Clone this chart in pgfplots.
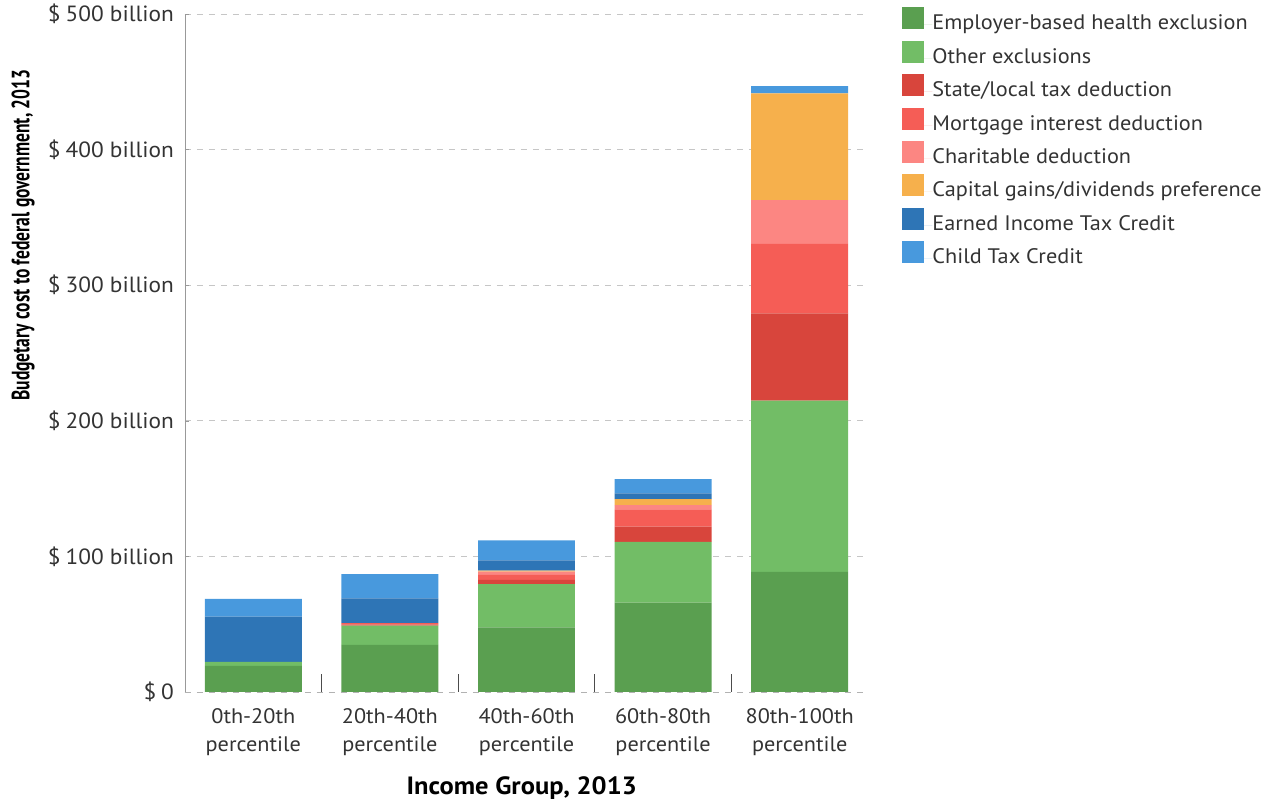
\documentclass[border=0pt]{standalone}
\usepackage{fontspec}
\setmainfont{PT Sans}[FakeStretch=1.06]
\newfontfamily\condfont{PT Sans}[FakeStretch=0.7]
\usepackage{pgfplots}
\pgfplotsset{compat=1.18}
\usepackage{pgfplotstable}
\definecolor{cEmp}{RGB}{90,159,80}
\definecolor{cOth}{RGB}{114,189,102}
\definecolor{cSta}{RGB}{216,69,60}
\definecolor{cMor}{RGB}{245,93,86}
\definecolor{cCha}{RGB}{252,134,130}
\definecolor{cCap}{RGB}{246,176,76}
\definecolor{cEit}{RGB}{46,117,182}
\definecolor{cCtc}{RGB}{72,153,221}
\pgfplotstableread{
x emp oth sta mor cha cap eit ctc
0 19.2 3.1 0 0 0 0 33.2 13.1
1 34.7 14.3 0.7 1.0 0 0 18.4 17.9
2 47.7 31.9 3.0 3.7 2.4 0.8 7.6 14.8
3 65.9 44.9 11.1 12.8 3.2 4.4 4.2 10.5
4 88.5 126.3 64.5 51.1 32.4 78.7 0 5.4
}\datatable
\begin{document}
\begin{tikzpicture}
\begin{axis}[
  name=ax,
  scale only axis,
  width=341.5pt, height=339pt,
  ybar stacked, bar width=0.71,
  xmin=-0.5, xmax=4.5, ymin=0, ymax=500,
  axis x line=bottom, axis y line=left,
  x axis line style={-, gray!60, dashed},
  y axis line style={-, gray!80},
  tick align=inside,
  xtick={0,1,2,3,4},
  xticklabels={{0th-20th\\percentile},{20th-40th\\percentile},{40th-60th\\percentile},{60th-80th\\percentile},{80th-100th\\percentile}},
  xticklabel style={align=center, font=\fontsize{10.5}{14}\selectfont, text=black!80, yshift=-4.5pt},
  major x tick style={draw=none},
  minor xtick={0.5,1.5,2.5,3.5},
  minor tick length=9pt,
  minor x tick style={black!70, thin},
  ytick={0,100,200,300,400,500},
  yticklabels={\$\hspace{2.5pt}0,\$\hspace{2.5pt}100 billion,\$\hspace{2.5pt}200 billion,\$\hspace{2.5pt}300 billion,\$\hspace{2.5pt}400 billion,\$\hspace{2.5pt}500 billion},
  yticklabel style={font=\fontsize{11}{12}\selectfont, text=black!80, xshift=-2pt},
  major tick length=2pt,
  ytick style={gray!80},
  ymajorgrids, major grid style={dashed, gray!45, thin},
  xlabel={\bfseries Income Group, 2013},
  xlabel style={at={(axis description cs:0.493,0)}, anchor=center, yshift=-48pt, font=\fontsize{12.5}{14}\selectfont},
  ylabel={\condfont\bfseries Budgetary cost to federal government, 2013},
  ylabel style={at={(axis description cs:0,0.674)}, anchor=center, yshift=81pt, font=\fontsize{12.5}{14}\selectfont},
  legend style={at={(1,1)}, anchor=north west, xshift=17pt, yshift=3.5pt, draw=none, fill=none, inner sep=0pt,
    font=\fontsize{10.5}{12}\selectfont, text=black!80, row sep=2.5pt,
    nodes={inner sep=0pt, text height=8pt, text depth=3pt}},
  legend cell align=left,
  legend image code/.code={\fill[#1] (0pt,-2.3pt) rectangle (11pt,8.7pt); \path (0pt,0pt) -- (15pt,0pt);},
]
\addplot[fill=cEmp, draw=none] table[x=x,y=emp] {\datatable};
\addplot[fill=cOth, draw=none] table[x=x,y=oth] {\datatable};
\addplot[fill=cSta, draw=none] table[x=x,y=sta] {\datatable};
\addplot[fill=cMor, draw=none] table[x=x,y=mor] {\datatable};
\addplot[fill=cCha, draw=none] table[x=x,y=cha] {\datatable};
\addplot[fill=cCap, draw=none] table[x=x,y=cap] {\datatable};
\addplot[fill=cEit, draw=none] table[x=x,y=eit] {\datatable};
\addplot[fill=cCtc, draw=none] table[x=x,y=ctc] {\datatable};
\legend{Employer-based health exclusion, Other exclusions, State/local tax deduction, Mortgage interest deduction, Charitable deduction, Capital gains/dividends preference, Earned Income Tax Credit, Child Tax Credit}
\end{axis}
\pgfresetboundingbox
\path (ax.south west) ++(-92.5pt,-55.5pt) rectangle ++(635pt,401.5pt);
\end{tikzpicture}
\end{document}
